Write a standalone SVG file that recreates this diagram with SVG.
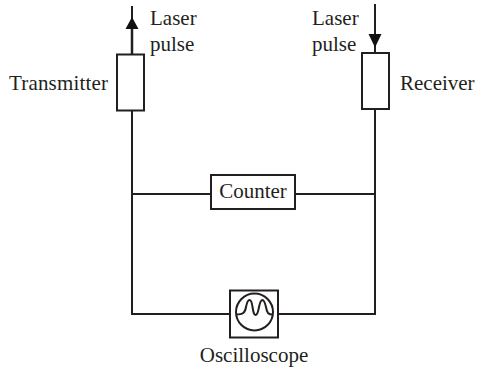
<svg xmlns="http://www.w3.org/2000/svg" width="482" height="371" viewBox="0 0 482 371">
<style>
text{font-family:"Liberation Serif","Times New Roman",serif;font-size:21px;fill:#231f20}
.l{fill:none;stroke:#231f20;stroke-width:2}
.b{fill:#fff;stroke:#231f20;stroke-width:2}
.h{fill:#111}
</style>
<rect width="482" height="371" fill="#fff"/>
<g id="connectors">
<path class="l" d="M132 6V54M132 111V314H229M277 314H375V109M375 4V53M132 194H211M295 194H375"/>
<path class="l" d="M132 29V54" style="stroke-width:2.500"/>
<path class="h" d="M132 17L138.500 29H125.500Z"/>
<path class="h" d="M375 47.500L368.500 34H381.500Z"/>
</g>
<g id="transmitter"><rect class="b" x="117" y="54.500" width="27" height="56"/><text x="9" y="90" textLength="99">Transmitter</text></g>
<g id="receiver"><rect class="b" x="362" y="53" width="27" height="56"/><text x="400" y="90">Receiver</text></g>
<g id="laser-out"><text x="150" y="25">Laser</text><text x="150" y="51">pulse</text></g>
<g id="laser-in"><text x="312" y="25">Laser</text><text x="312" y="51">pulse</text></g>
<g id="counter"><rect class="b" x="211" y="175" width="84" height="34"/><text x="253" y="198" text-anchor="middle">Counter</text></g>
<g id="oscilloscope"><rect class="b" x="230" y="290.500" width="48" height="47"/><circle class="l" cx="254.500" cy="312" r="18.500"/><path class="l" d="M236 314.500C243 314.500 245 313 246 307C247 302 248 300 249.500 300C251 300 252 303 252.500 307C253.500 313 254 315 255.500 315C257 315 258 313 259 307C260 302 261 300 262.500 300C264 300 265 303 266 307C267 313 268 314.500 273 314.500"/><text x="254" y="362" text-anchor="middle">Oscilloscope</text></g>
</svg>
